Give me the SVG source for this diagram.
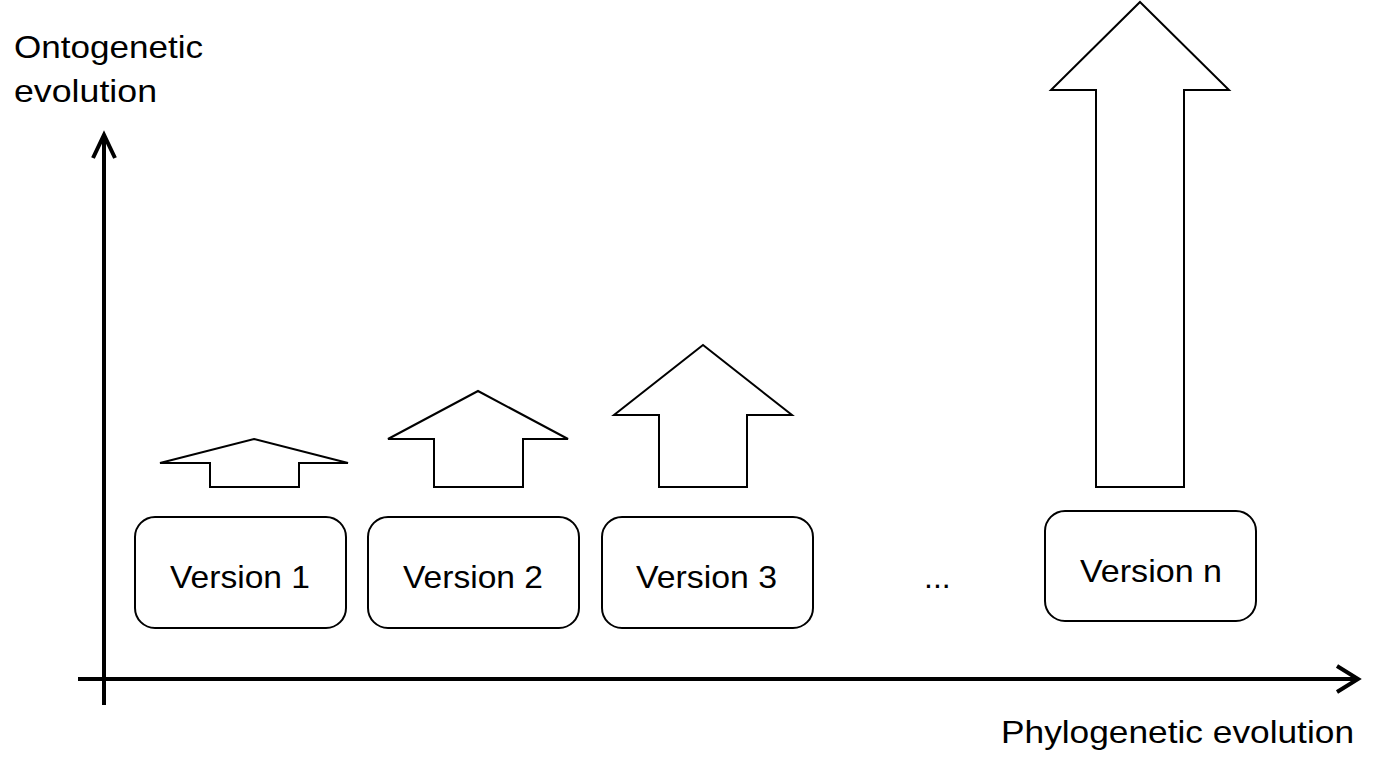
<svg xmlns="http://www.w3.org/2000/svg" width="1386" height="765" viewBox="0 0 1386 765">
<style>
text{font-family:"Liberation Sans",Arial,sans-serif;font-size:32px;fill:#000}
.box{fill:#fff;stroke:#000;stroke-width:2}
.up{fill:#fff;stroke:#000;stroke-width:2;stroke-linejoin:miter}
.axis{fill:none;stroke:#000;stroke-width:4}
.lbl{text-anchor:start}
</style>
<rect width="1386" height="765" fill="#fff"/>
<g id="connectors">
<line class="axis" x1="104" y1="705" x2="104" y2="137"/>
<polyline class="axis" points="93,158 104,135 115,158"/>
<line class="axis" x1="78" y1="679" x2="1356" y2="679"/>
<polyline class="axis" points="1337,666 1358,679 1337,692"/>
</g>
<g id="arrow1"><polygon class="up" points="254,439 348,463 299,463 299,487 210,487 210,463 160,463"/></g>
<g id="arrow2"><polygon class="up" points="478,391 568,439 523,439 523,487 434,487 434,439 388,439"/></g>
<g id="arrow3"><polygon class="up" points="703,345 792,415 747,415 747,487 659,487 659,415 614,415"/></g>
<g id="arrown"><polygon class="up" points="1140,2 1229,90 1184,90 1184,487 1096,487 1096,90 1051,90"/></g>
<g id="version1"><rect class="box" x="135" y="517" width="211" height="111" rx="20"/><text x="170" y="588" textLength="140" lengthAdjust="spacingAndGlyphs">Version 1</text></g>
<g id="version2"><rect class="box" x="368" y="517" width="211" height="111" rx="20"/><text x="403" y="588" textLength="140" lengthAdjust="spacingAndGlyphs">Version 2</text></g>
<g id="version3"><rect class="box" x="602" y="517" width="211" height="111" rx="20"/><text x="636" y="588" textLength="141" lengthAdjust="spacingAndGlyphs">Version 3</text></g>
<g id="ellipsis"><text x="924" y="588">...</text></g>
<g id="versionn"><rect class="box" x="1045" y="511" width="211" height="110" rx="20"/><text x="1080" y="582" textLength="142" lengthAdjust="spacingAndGlyphs">Version n</text></g>
<g id="ylabel"><text x="14" y="58" textLength="189" lengthAdjust="spacingAndGlyphs">Ontogenetic</text><text x="14" y="102" textLength="143" lengthAdjust="spacingAndGlyphs">evolution</text></g>
<g id="xlabel"><text x="1001" y="743" textLength="353" lengthAdjust="spacingAndGlyphs">Phylogenetic evolution</text></g>
</svg>
